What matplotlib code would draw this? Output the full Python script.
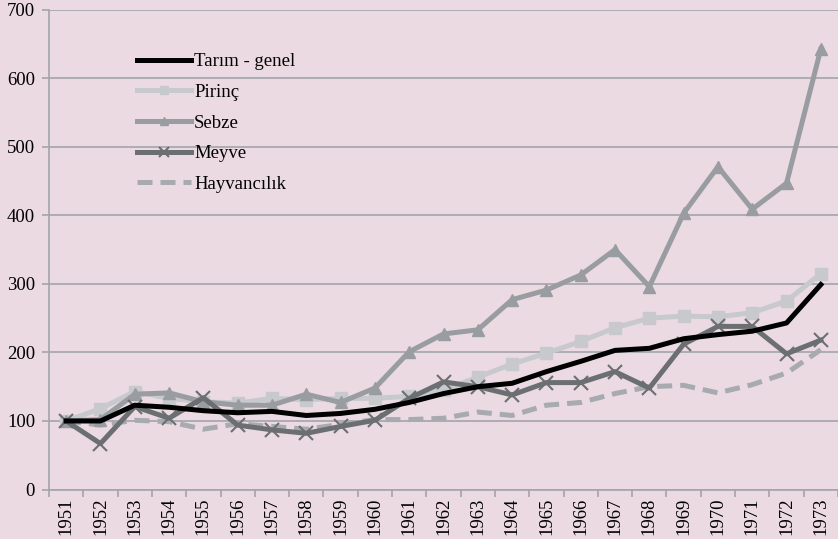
import numpy as np
import matplotlib
matplotlib.use("Agg")
import matplotlib.pyplot as plt

plt.rcParams["font.family"] = ["Liberation Serif", "DejaVu Serif"]

years = list(range(1951, 1974))

tarim = [100, 100, 123, 120, 115, 112, 114, 108, 111, 117, 127, 140, 150, 155, 172, 187,
         203, 206, 220, 226, 231, 243, 299]
pirinc = [100, 118, 143, 133, 128, 126, 133, 131, 133, 133, 136, 145, 164, 183, 199, 216,
          236, 250, 253, 252, 258, 275, 315]
sebze = [100, 102, 139, 141, 128, 123, 123, 139, 127, 148, 201, 227, 233, 277, 291, 313,
         350, 296, 403, 471, 409, 447, 643]
meyve = [100, 67, 121, 104, 134, 94, 87, 82, 92, 101, 133, 157, 150, 138, 156, 156,
         172, 148, 212, 238, 238, 198, 218]
hayvan = [100, 94, 101, 99, 88, 96, 92, 88, 95, 102, 102, 104, 113, 108, 123, 127,
          140, 150, 152, 141, 153, 170, 204]

bg = "#ebdae1"
grid_c = "#a3a4ab"

fig = plt.figure(figsize=(8.38, 5.39), dpi=100, facecolor=bg)
ax = fig.add_axes([49 / 838, 49.5 / 539, 1 - 49 / 838, 479.7 / 539])
ax.set_facecolor(bg)

ax.plot(years, tarim, color="black", lw=3.6, label="Tarım - genel", zorder=5)
ax.plot(years, pirinc, color="#c7c9cc", lw=3.6, marker="s", ms=8, label="Pirinç", zorder=3)
ax.plot(years, sebze, color="#999ca1", lw=3.6, marker="^", ms=8, label="Sebze", zorder=3)
ax.plot(years, meyve, color="#6c6f72", lw=3.6, marker="x", ms=10, mew=1.5, label="Meyve", zorder=4)
ax.plot(years, hayvan, color="#a7aaae", lw=3.6, ls=(0, (3, 1.6)), label="Hayvancılık", zorder=2)

ax.set_ylim(0, 700)
ax.set_yticks(range(0, 701, 100))
ax.set_xlim(1950.5, 1950.5 + (838 - 49) / 34.62)
ax.set_xticks(years)
ax.set_xticklabels([str(y) for y in years], rotation=90, fontsize=13.5)
ax.set_xticks(np.arange(1950.5, 1974, 1), minor=True)
ax.tick_params(axis="x", which="major", length=0, pad=6)
ax.tick_params(axis="x", which="minor", length=5, color=grid_c, width=1.2)
ax.tick_params(axis="y", length=5, color=grid_c, width=1.2, labelsize=13.5, pad=5)

ax.grid(axis="y", color=grid_c, lw=1.2)
ax.set_axisbelow(True)
for s in ["top", "right"]:
    ax.spines[s].set_visible(False)
for s in ["left", "bottom"]:
    ax.spines[s].set_color(grid_c)
    ax.spines[s].set_linewidth(1.2)

leg = ax.legend(loc="upper left", bbox_to_anchor=(0.102, 0.925), frameon=False,
                fontsize=13.5, handlelength=2.9, handletextpad=0.15, labelspacing=0.72,
                borderaxespad=0, markerscale=0.7)

fig.savefig("out.png", dpi=100, facecolor=bg)
